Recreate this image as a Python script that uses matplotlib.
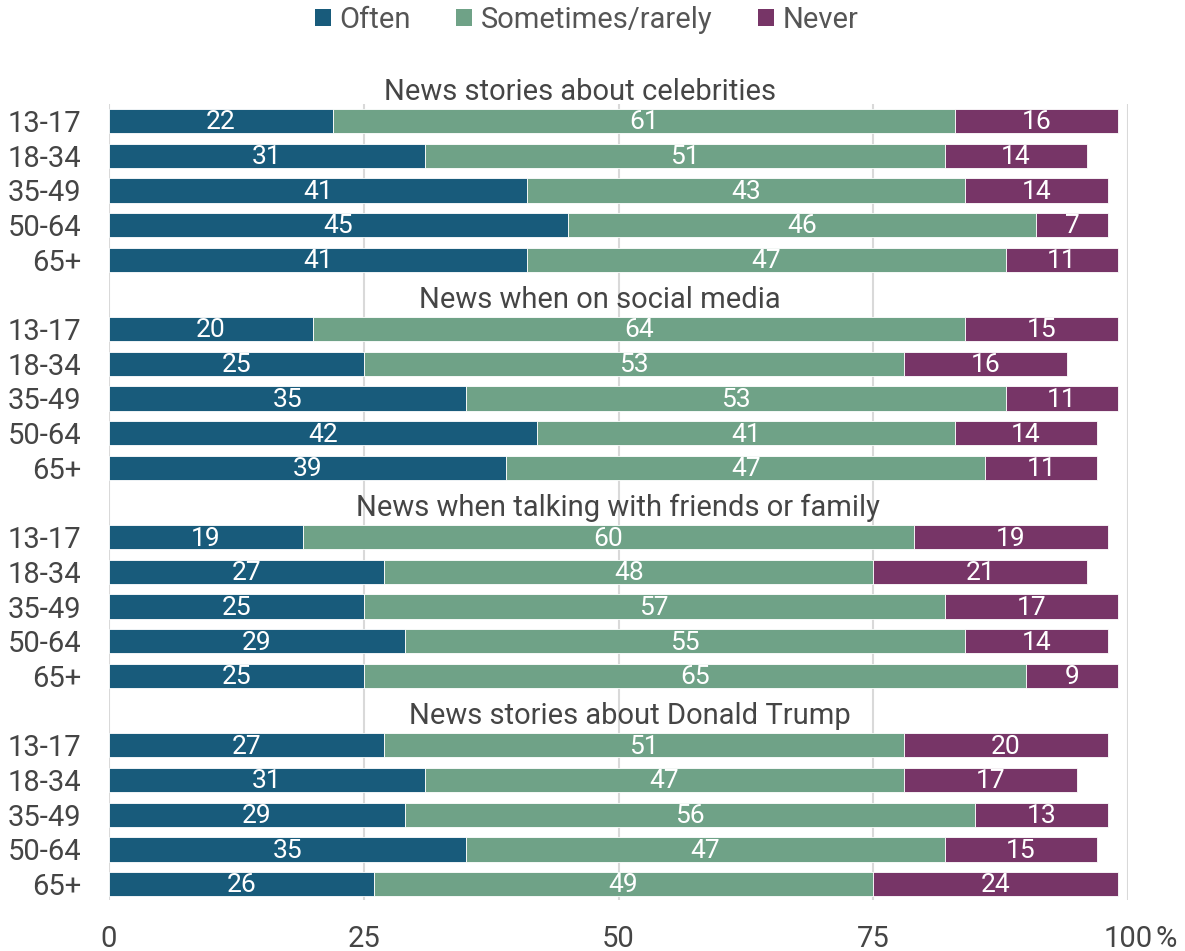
import matplotlib.pyplot as plt
from matplotlib.patches import Patch

plt.rcParams['font.family'] = ['Roboto', 'DejaVu Sans']

topics = [
    "News stories about celebrities",
    "News when on social media",
    "News when talking with friends or family",
    "News stories about Donald Trump",
]
ages = ["13-17", "18-34", "35-49", "50-64", "65+"]

# one list per answer, topics in order, five age groups each
often = [
    22, 31, 41, 45, 41,
    20, 25, 35, 42, 39,
    19, 27, 25, 29, 25,
    27, 31, 29, 35, 26,
]
sometimes = [
    61, 51, 43, 46, 47,
    64, 53, 53, 41, 47,
    60, 48, 57, 55, 65,
    51, 47, 56, 47, 49,
]
never = [
    16, 14, 14, 7, 11,
    15, 16, 11, 14, 11,
    19, 21, 17, 14, 9,
    20, 17, 13, 15, 24,
]

series = ["Often", "Sometimes/rarely", "Never"]
colors = ["#185b7b", "#6fa287", "#773567"]
text_color = "#454545"

# horizontal centres of the topic headings (axis units)
title_x = [46.2, 48.2, 49.9, 51.1]

fig = plt.figure(figsize=(11.85, 9.51), dpi=100)
ax = fig.add_axes([109 / 1185, 1 - 900 / 951, (1128 - 109) / 1185, (900 - 104) / 951])

# each topic takes 6 slots: a title slot then five bars
ypos = []
title_pos = []
for g in range(len(topics)):
    title_pos.append(g * 6)
    for i in range(len(ages)):
        ypos.append(g * 6 + 1 + i)

left = [0] * len(ypos)
for name, vals, col in zip(series, [often, sometimes, never], colors):
    bars = ax.barh(ypos, vals, left=left, height=0.7, color=col,
                   edgecolor="white", linewidth=0.6, zorder=2)
    for b, v in zip(bars, vals):
        ax.text(b.get_x() + b.get_width() / 2, b.get_y() + b.get_height() / 2 + 0.04,
                str(v), ha="center", va="center", color="white", fontsize=19, zorder=3)
    left = [l + v for l, v in zip(left, vals)]

for t, x, y in zip(topics, title_x, title_pos):
    ax.text(x, y + 0.15, t, ha="center", va="center", fontsize=21,
            color=text_color, clip_on=False, zorder=3)

ax.set_xlim(0, 100)
ax.set_ylim(23.46, 0.51)
ax.set_yticks(ypos)
ax.set_yticklabels(ages * len(topics), fontsize=21, color=text_color)
ax.set_xticks([0, 25, 50, 75, 100])
ax.set_xticklabels(["0", "25", "50", "75", "100"], fontsize=21, color=text_color)
ax.tick_params(axis="both", length=0)
ax.tick_params(axis="x", pad=18)
ax.tick_params(axis="y", pad=20)
ax.annotate("%", xy=(100, 0), xycoords=("data", "axes fraction"),
            xytext=(19.5, -18), textcoords="offset points",
            ha="left", va="top", fontsize=21, color=text_color)

ax.grid(axis="x", color="#d9d9d9", linewidth=1.5, zorder=0)
ax.set_axisbelow(True)
for s in ax.spines.values():
    s.set_visible(False)

handles = [Patch(facecolor=c, edgecolor="none") for c in colors]
fig.legend(handles, series, loc="center", bbox_to_anchor=(0.495, 1 - 20 / 951),
           ncol=3, frameon=False, fontsize=21, labelcolor="#555555",
           handlelength=0.55, handleheight=0.55, handletextpad=0.3, columnspacing=1.55)

fig.savefig("out.png", dpi=100)
